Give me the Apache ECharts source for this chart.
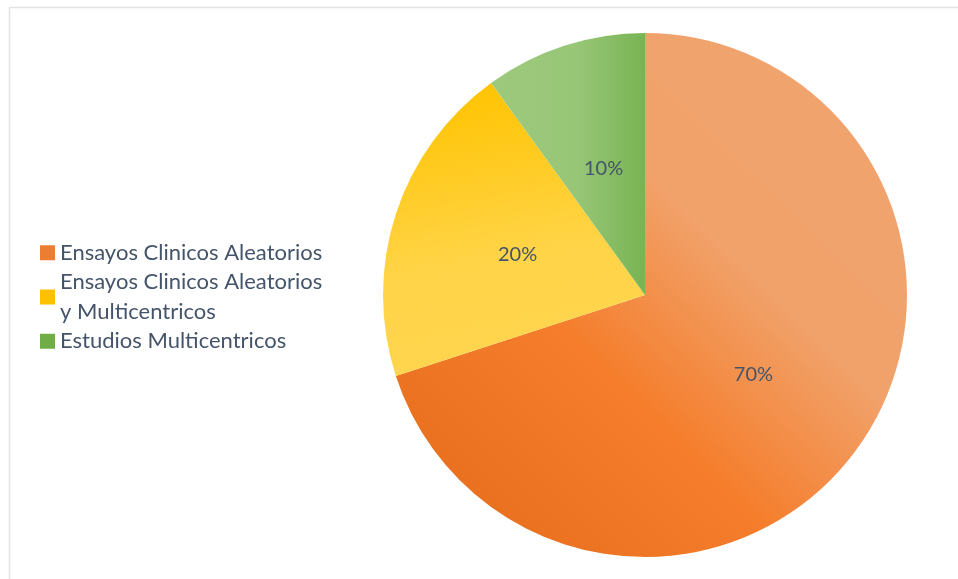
<!DOCTYPE html>
<html>
<head>
<meta charset="utf-8">
<script src="https://cdn.jsdelivr.net/npm/echarts@6/dist/echarts.min.js"></script>
<style>
html,body{margin:0;padding:0;background:#fff;}
#chart{width:958px;height:579px;}
</style>
</head>
<body>
<div id="chart"></div>
<script>
const categories = ['Ensayos Clinicos Aleatorios', 'Ensayos Clinicos Aleatorios\ny Multicentricos', 'Estudios Multicentricos'];
const values = [70, 20, 10];

const fills = [
  new echarts.graphic.LinearGradient(1, 0, 0, 1, [
    {offset: 0, color: '#F1A46F'},
    {offset: 0.38, color: '#F1A26B'},
    {offset: 0.62, color: '#F57D2B'},
    {offset: 1, color: '#E26A1A'}
  ]),
  new echarts.graphic.LinearGradient(0.3, 0, 0.5, 1, [
    {offset: 0, color: '#FFC300'},
    {offset: 0.6, color: '#FFD447'},
    {offset: 1, color: '#FFD550'}
  ]),
  new echarts.graphic.LinearGradient(0, 0, 1, 0, [
    {offset: 0, color: '#9DC97C'},
    {offset: 0.55, color: '#98C677'},
    {offset: 1, color: '#78B453'}
  ])
];
const legendColors = ['#ED7D31', '#FFC000', '#70AD47'];

const chart = echarts.init(document.getElementById('chart'), null, {renderer: 'canvas'});
chart.setOption({
  animation: false,
  backgroundColor: '#fff',
  graphic: [
    {type: 'line', shape: {x1: 9, y1: 7.5, x2: 958, y2: 7.5}, style: {stroke: '#E3E3E3', lineWidth: 1.5}},
    {type: 'line', shape: {x1: 9.5, y1: 7, x2: 9.5, y2: 579}, style: {stroke: '#E3E3E3', lineWidth: 1.5}}
  ],
  legend: {
    orient: 'vertical',
    left: 35,
    top: 233,
    itemGap: 0,
    itemWidth: 15,
    itemHeight: 15,
    itemStyle: {borderWidth: 0},
    icon: 'rect',
    selectedMode: false,
    textStyle: {fontFamily: 'Lato', fontSize: 22, color: '#44546A', lineHeight: 29.5, padding: [0, 0, 0, 0]},
    data: categories.map((c, i) => ({name: c, itemStyle: {color: legendColors[i]}}))
  },
  series: [{
    type: 'pie',
    center: [645, 295],
    radius: 262,
    startAngle: 90,
    clockwise: true,
    avoidLabelOverlap: false,
    label: {
      show: true,
      position: 'inside',
      formatter: p => p.value + '%',
      fontFamily: 'Lato',
      fontSize: 20,
      color: '#44546A',
      offset: [0, 1]
    },
    labelLine: {show: false},
    emphasis: {disabled: true},
    itemStyle: {borderWidth: 0},
    data: categories.map((c, i) => ({name: c, value: values[i], itemStyle: {color: fills[i]}}))
  }]
});
</script>
</body>
</html>
